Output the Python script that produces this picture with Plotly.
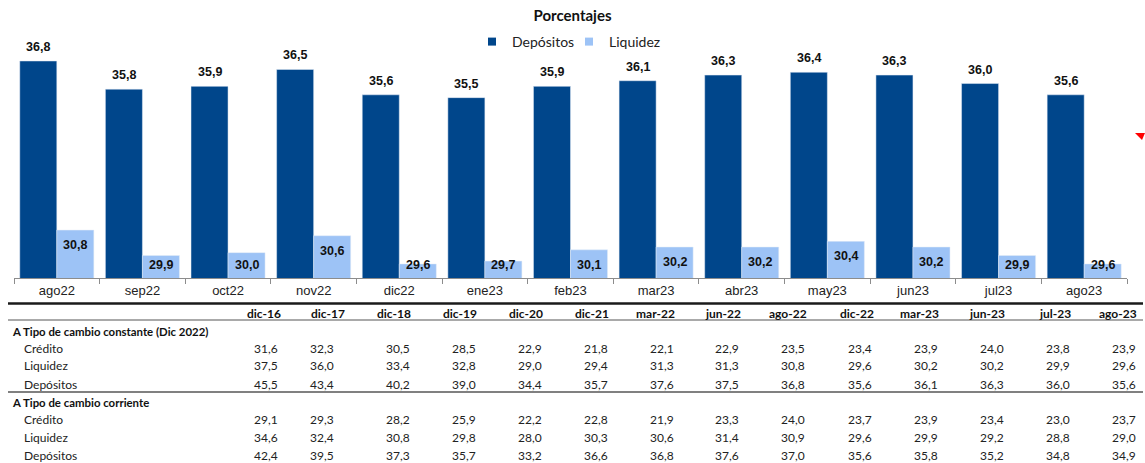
import plotly.graph_objects as go

# ---------------- data ----------------
meses = ['ago22', 'sep22', 'oct22', 'nov22', 'dic22', 'ene23', 'feb23',
         'mar23', 'abr23', 'may23', 'jun23', 'jul23', 'ago23']
depositos = [36.8, 35.8, 35.9, 36.5, 35.6, 35.5, 35.9, 36.1, 36.3, 36.4, 36.3, 36.0, 35.6]
liquidez = [30.8, 29.9, 30.0, 30.6, 29.6, 29.7, 30.1, 30.2, 30.2, 30.4, 30.2, 29.9, 29.6]

tabla_cols = ['dic-16', 'dic-17', 'dic-18', 'dic-19', 'dic-20', 'dic-21', 'mar-22',
              'jun-22', 'ago-22', 'dic-22', 'mar-23', 'jun-23', 'jul-23', 'ago-23']
seccion_1 = 'A Tipo de cambio constante (Dic 2022)'
credito_const = [31.6, 32.3, 30.5, 28.5, 22.9, 21.8, 22.1, 22.9, 23.5, 23.4, 23.9, 24.0, 23.8, 23.9]
liquidez_const = [37.5, 36.0, 33.4, 32.8, 29.0, 29.4, 31.3, 31.3, 30.8, 29.6, 30.2, 30.2, 29.9, 29.6]
depositos_const = [45.5, 43.4, 40.2, 39.0, 34.4, 35.7, 37.6, 37.5, 36.8, 35.6, 36.1, 36.3, 36.0, 35.6]
seccion_2 = 'A Tipo de cambio corriente'
credito_corr = [29.1, 29.3, 28.2, 25.9, 22.2, 22.8, 21.9, 23.3, 24.0, 23.7, 23.9, 23.4, 23.0, 23.7]
liquidez_corr = [34.6, 32.4, 30.8, 29.8, 28.0, 30.3, 30.6, 31.4, 30.9, 29.6, 29.9, 29.2, 28.8, 29.0]
depositos_corr = [42.4, 39.5, 37.3, 35.7, 33.2, 36.6, 36.8, 37.6, 37.0, 35.6, 35.8, 35.2, 34.8, 34.9]
fila_labels = ['Crédito', 'Liquidez', 'Depósitos']

# ---------------- layout geometry ----------------
W, H = 1145, 463
ML, MR, MT, MB = 14, 18, 50, 185
PW, PH = W - ML - MR, H - MT - MB
Y_RANGE = [29.1, 37.19]
PX_PER_UNIT = PH / (Y_RANGE[1] - Y_RANGE[0])
BARGAP = 0.135
HALF_OFFSET = PW / len(meses) * (1 - BARGAP) / 4  # px from category centre to each bar centre


def px_x(px):
    return (px - ML) / PW


def px_y(py):
    return (H - MB - py) / PH


C_DEP = '#00468B'
C_LIQ = '#9DC3F6'
NUM_FONT = 'Liberation Sans, Arial, sans-serif'
TAB_FONT = 'Lato, Carlito, Calibri, sans-serif'
LBL_FONT = dict(family=NUM_FONT, size=12.5, color='#111111', weight='bold')

fig = go.Figure()
fig.add_trace(go.Bar(x=meses, y=depositos, name='Depósitos', marker_color=C_DEP,
                     showlegend=False, hoverinfo='x+y'))
fig.add_trace(go.Bar(x=meses, y=liquidez, name='Liquidez', marker_color=C_LIQ,
                     showlegend=False, hoverinfo='x+y'))
# legend entries with small square markers
for nm, col in [('Depósitos', C_DEP), ('Liquidez', C_LIQ)]:
    fig.add_trace(go.Scatter(x=[None], y=[None], mode='markers', name=nm,
                             marker=dict(symbol='square', size=8, color=col)))

annots = []
# value labels: Depósitos above the bar, Liquidez inside near the top
for m, v in zip(meses, depositos):
    annots.append(dict(x=m, y=v, xref='x', yref='y', text=f'{v:.1f}'.replace('.', ','),
                       showarrow=False, xshift=-HALF_OFFSET, yshift=14, yanchor='middle',
                       font=LBL_FONT))
lab_floor = Y_RANGE[0] + 13 / PX_PER_UNIT
for m, v in zip(meses, liquidez):
    yc = max(v - 15 / PX_PER_UNIT, lab_floor)
    annots.append(dict(x=m, y=yc, xref='x', yref='y', text=f'{v:.1f}'.replace('.', ','),
                       showarrow=False, xshift=HALF_OFFSET, yanchor='middle',
                       font=LBL_FONT))

fig.update_layout(
    width=W, height=H, margin=dict(l=ML, r=MR, t=MT, b=MB),
    paper_bgcolor='white', plot_bgcolor='white',
    separators=',.',
    barmode='group', bargap=BARGAP, bargroupgap=0,
    title=dict(text='<b>Porcentajes</b>', x=0.5, xanchor='center',
               y=1 - 16 / H, yanchor='middle',
               font=dict(family=TAB_FONT, size=15, color='#111111')),
    legend=dict(orientation='h', x=px_x(569), xanchor='center', y=px_y(42), yanchor='middle',
                font=dict(family=TAB_FONT, size=14, color='#222222'),
                itemwidth=30, entrywidth=52, entrywidthmode='pixels',
                bgcolor='rgba(0,0,0,0)'),
    xaxis=dict(showline=True, linecolor='#8c8c8c', linewidth=1,
               ticks='outside', tickson='boundaries', ticklen=5, tickcolor='#8c8c8c',
               tickfont=dict(family='Liberation Sans, Arial, sans-serif', size=13, color='#222222'),
               showgrid=False, zeroline=False, fixedrange=True),
    yaxis=dict(visible=False, range=Y_RANGE, showgrid=False, zeroline=False),
)

# ---------------- table ----------------
col_right = [280, 336, 412, 478, 544, 610, 676, 741, 807, 874, 940, 1006, 1072, 1138]
hdr_right = [283, 347, 413, 479, 545, 611, 677, 743, 809, 876, 941, 1007, 1073, 1139]
for c, xr in zip(tabla_cols, hdr_right):
    annots.append(dict(text='<b>' + c + '</b>', x=px_x(xr), y=px_y(313), xanchor='right',
                       yanchor='middle', showarrow=False, xref='paper', yref='paper',
                       font=dict(family=TAB_FONT, size=12, color='#111111')))

secciones = [
    (seccion_1, 331, [credito_const, liquidez_const, depositos_const], [348, 366, 384]),
    (seccion_2, 402, [credito_corr, liquidez_corr, depositos_corr], [419.5, 437.5, 455.5]),
]
for titulo, ty, filas, ys in secciones:
    annots.append(dict(text='<b>' + titulo + '</b>', x=px_x(10), y=px_y(ty), xanchor='left',
                       yanchor='middle', showarrow=False, xref='paper', yref='paper',
                       font=dict(family=TAB_FONT, size=11.4, color='#111111')))
    for lab, vals, yy in zip(fila_labels, filas, ys):
        annots.append(dict(text=lab, x=px_x(22), y=px_y(yy), xanchor='left',
                           yanchor='middle', showarrow=False, xref='paper', yref='paper',
                           font=dict(family=TAB_FONT, size=12, color='#222222')))
        for v, xr in zip(vals, col_right):
            annots.append(dict(text=f'{v:.1f}'.replace('.', ','), x=px_x(xr), y=px_y(yy),
                               xanchor='right', yanchor='middle', showarrow=False,
                               xref='paper', yref='paper',
                               font=dict(family=TAB_FONT, size=12, color='#222222')))
fig.update_layout(annotations=annots)

shapes = [
    dict(type='line', xref='paper', yref='paper', x0=px_x(8), x1=px_x(1143),
         y0=px_y(303.5), y1=px_y(303.5), line=dict(color='#1a1a1a', width=2.5)),
    dict(type='line', xref='paper', yref='paper', x0=px_x(8), x1=px_x(1143),
         y0=px_y(320), y1=px_y(320), line=dict(color='#555555', width=1)),
    dict(type='line', xref='paper', yref='paper', x0=px_x(8), x1=px_x(1143),
         y0=px_y(392), y1=px_y(392), line=dict(color='#808080', width=2)),
    # small red comment marker at the right edge
    dict(type='path', xref='paper', yref='paper',
         path=f'M {px_x(1135)} {px_y(133)} L {px_x(1145)} {px_y(133)} L {px_x(1142)} {px_y(140)} Z',
         fillcolor='#ff0000', line=dict(width=0)),
]
fig.update_layout(shapes=shapes)

fig.write_html('out.html', config={'displayModeBar': False},
               post_script="document.body.style.margin='0px';")
